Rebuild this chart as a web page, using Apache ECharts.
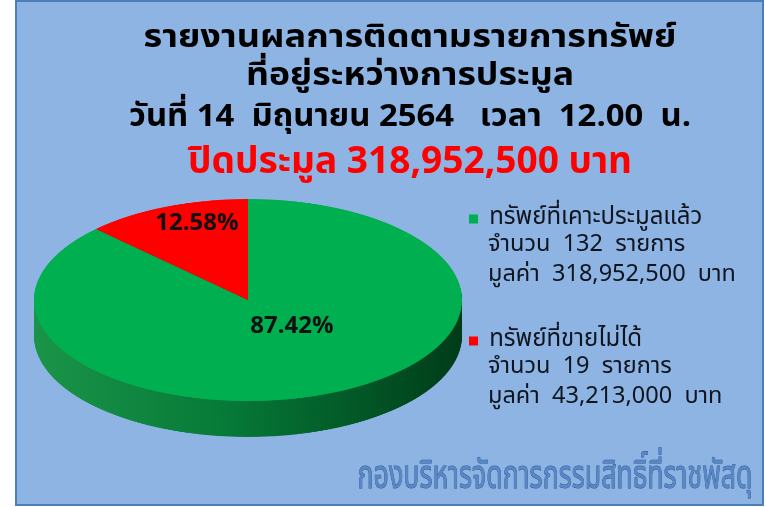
<!DOCTYPE html>
<html>
<head>
<meta charset="utf-8">
<script src="https://cdn.jsdelivr.net/npm/echarts/dist/echarts.min.js"></script>
<style>
html, body { margin: 0; padding: 0; background: #fff; }
#wrap { position: relative; width: 766px; height: 507px; overflow: hidden; }
#frame { position: absolute; left: 15px; top: 0; width: 745px; height: 502px; background: #8db4e2; border: 2px solid #4a7ebb; }
/* the pie is drawn round and squashed into an ellipse */
#pie { position: absolute; left: 34px; top: 199px; width: 428px; height: 504px; transform: scaleY(0.472); transform-origin: 0 0; }
#container { position: absolute; left: 0; top: 0; width: 766px; height: 507px; }
</style>
</head>
<body>
<div id="wrap">
  <div id="frame"></div>
  <div id="pie"></div>
  <div id="container"></div>
</div>
<script>
var names = ['ทรัพย์ที่เคาะประมูลแล้ว', 'ทรัพย์ที่ขายไม่ได้'];
var counts = [132, 19];
var amounts = [318952500, 43213000];
var titleLines = ['รายงานผลการติดตามรายการทรัพย์', 'ที่อยู่ระหว่างการประมูล', 'วันที่ 14  มิถุนายน 2564   เวลา  12.00  น.'];
var footer = 'กองบริหารจัดการกรรมสิทธิ์ที่ราชพัสดุ';

var topColors = ['#00b050', '#ff0000'];
var fontFam = 'Tahoma, "Noto Sans Thai", "Noto Sans", sans-serif';

function fmt(n) {
  return String(n).replace(/\B(?=(\d{3})+(?!\d))/g, ',');
}
var total = counts[0] + counts[1];

// squeeze/stretch a text line so it takes the width it has in the picture
var measureCtx = document.createElement('canvas').getContext('2d');
function fitScale(text, font, width) {
  measureCtx.font = font;
  return width / measureCtx.measureText(text).width;
}

// ---------- pie (round, squashed by css) ----------
var pieChart = echarts.init(document.getElementById('pie'));
var R = 214, depth = 76, step = 2;
var sideGreen = new echarts.graphic.LinearGradient(0, 0, 1, 0, [
  { offset: 0, color: '#1b9449' },
  { offset: 0.45, color: '#067a38' },
  { offset: 1, color: '#003c19' }
]);
var sideColors = [sideGreen, '#9a0000'];
var pieSeries = [];
for (var off = depth; off > 0; off -= step) {
  pieSeries.push({
    type: 'pie', radius: R, center: [R, R + off],
    silent: true, animation: false,
    label: { show: false }, labelLine: { show: false },
    itemStyle: { borderWidth: 0 },
    data: counts.map(function (c, i) {
      return { name: names[i], value: c, itemStyle: { color: sideColors[i] } };
    })
  });
}
pieSeries.push({
  type: 'pie', radius: R, center: [R, R],
  silent: true, animation: false,
  label: { show: false }, labelLine: { show: false },
  itemStyle: { borderWidth: 0 },
  data: counts.map(function (c, i) {
    return { name: names[i], value: c, itemStyle: { color: topColors[i] } };
  })
});
pieChart.setOption({ series: pieSeries });

// ---------- texts, legend ----------
var myChart = echarts.init(document.getElementById('container'));
var graphics = [];

function centeredLine(text, font, color, y, width) {
  return {
    type: 'text', x: 410, y: y, scaleX: fitScale(text, font, width),
    style: { text: text, x: 0, y: 0, textAlign: 'center', textVerticalAlign: 'middle', font: font, fill: color }
  };
}
var titleY = [41, 79, 120];
var titleW = [533, 328, 562];
titleLines.forEach(function (t, i) {
  graphics.push(centeredLine(t, 'bold 31px ' + fontFam, '#000', titleY[i], titleW[i]));
});
graphics.push(centeredLine('ปิดประมูล ' + fmt(amounts[0]) + ' บาท', 'bold 37px ' + fontFam, '#ff0000', 166, 444));

// percent labels
var pctPos = [[292, 328], [197, 225]];
counts.forEach(function (c, i) {
  graphics.push({
    type: 'text',
    style: { text: (c / total * 100).toFixed(2) + '%', x: pctPos[i][0], y: pctPos[i][1],
      textAlign: 'center', textVerticalAlign: 'middle', font: 'bold 24px ' + fontFam, fill: '#111' }
  });
});

// legend details
var detailY = [[246, 276], [368, 398]];
counts.forEach(function (c, i) {
  graphics.push({
    type: 'text',
    style: { text: 'จำนวน  ' + c + '  รายการ', x: 488, y: detailY[i][0], textVerticalAlign: 'middle',
      font: '23.5px ' + fontFam, fill: '#10141f' }
  });
  graphics.push({
    type: 'text',
    style: { text: 'มูลค่า  ' + fmt(amounts[i]) + '  บาท', x: 488, y: detailY[i][1], textVerticalAlign: 'middle',
      font: '23.5px ' + fontFam, fill: '#10141f' }
  });
});

var footFont = '40px ' + fontFam;
graphics.push({
  type: 'text', x: 555, y: 480, scaleX: fitScale(footer, footFont, 395),
  style: { text: footer, x: 0, y: 0, textAlign: 'center', textVerticalAlign: 'middle',
    font: footFont, fill: '#5a88c6', stroke: '#2c5892', lineWidth: 1 }
});

option = {
  legend: {
    orient: 'vertical', left: 464, top: 202,
    itemWidth: 9, itemHeight: 9, itemGap: 98, icon: 'rect',
    selectedMode: false,
    formatter: function (n) { return ' ' + n; },
    textStyle: { fontSize: 24, color: '#10141f', fontFamily: fontFam, lineHeight: 24 },
    data: names
  },
  graphic: graphics,
  series: [{
    // only feeds the legend
    type: 'pie', center: [-300, -300], radius: 5, silent: true, animation: false,
    label: { show: false },
    data: counts.map(function (c, i) {
      return { name: names[i], value: c, itemStyle: { color: topColors[i] } };
    })
  }]
};
myChart.setOption(option);
</script>
</body>
</html>
